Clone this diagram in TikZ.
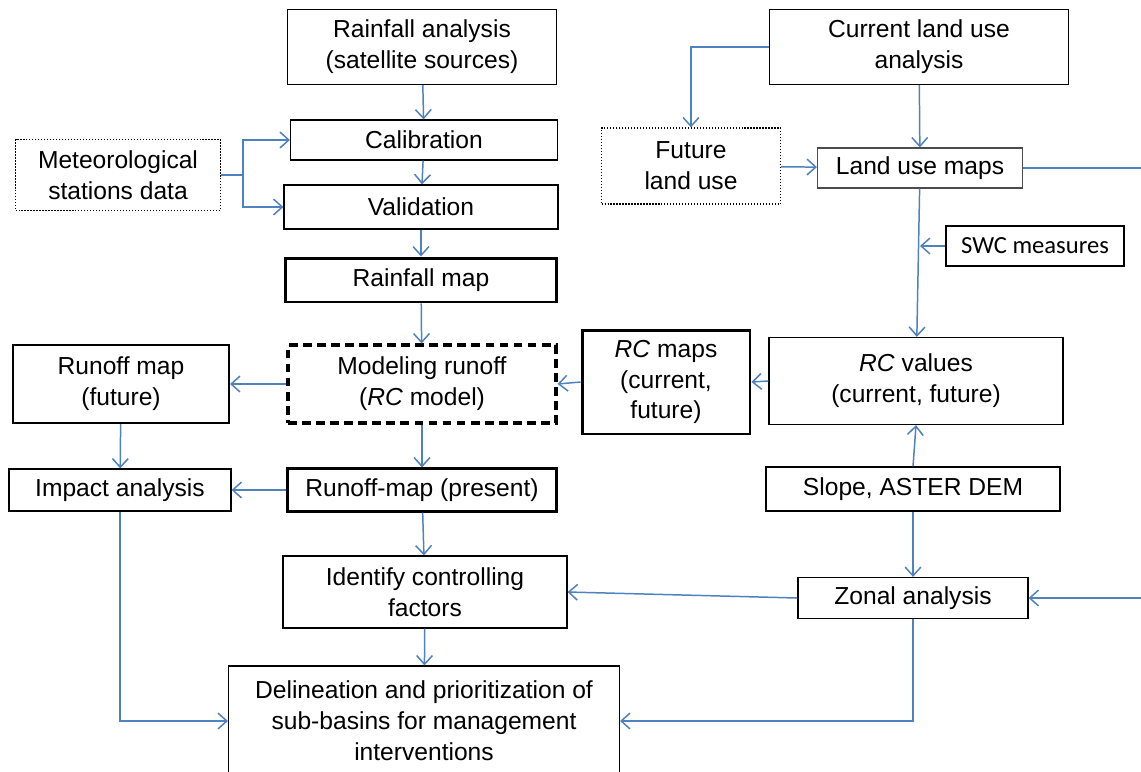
\documentclass[tikz,border=0pt]{standalone}
\usepackage{fontspec}
\setmainfont{Liberation Sans}
\newfontfamily\swcfont{Carlito}
\usetikzlibrary{arrows.meta}
\definecolor{linkblue}{RGB}{79,129,189}

\begin{document}
\begin{tikzpicture}
  [x=0.02cm,y=-0.02cm,
   every node/.style={draw,align=center,inner sep=1pt,
     font=\fontsize{14}{17.6}\selectfont},
   box/.style={line width=0.7pt},
   boldbox/.style={line width=1.7pt},
   midbox/.style={line width=1.2pt},
   dotbox/.style={line width=0.7pt,densely dotted},
   dashbox/.style={line width=1.8pt,dash pattern=on 5pt off 3pt},
   >={Straight Barb[length=5pt,width=9pt]},
   link/.style={->,draw=linkblue,line width=0.85pt}]
  \useasboundingbox (0,0) rectangle (1141,771);

  % left column
  \node[box,minimum width=5.38cm,minimum height=1.5cm] (rain) at (422,47) {Rainfall analysis\\(satellite sources)};
  \node[box,minimum width=5.34cm,minimum height=0.8cm] (calib) at (424,140) {Calibration};
  \node[box,minimum width=5.48cm,minimum height=0.88cm] (valid) at (421,207) {Validation};
  \node[dotbox,minimum width=4.1cm,minimum height=1.42cm] (meteo) at (118,175) {Meteorological\\stations data};
  \node[boldbox,minimum width=5.42cm,minimum height=0.88cm] (rmap) at (421,280) {Rainfall map};
  \node[dashbox,minimum width=5.36cm,minimum height=1.56cm] (model) at (422,384) {Modeling runoff\\(\textit{RC} model)};
  \node[midbox,minimum width=4.32cm,minimum height=1.56cm] (rofut) at (121,384) {Runoff map\\(future)};
  \node[box,minimum width=4.44cm,minimum height=0.84cm] (impact) at (120,490) {Impact analysis};
  \node[midbox,minimum width=5.38cm,minimum height=0.86cm] (ropres) at (422,490) {Runoff-map (present)};
  \node[box,minimum width=5.68cm,minimum height=1.44cm] (ident) at (425,592) {Identify controlling\\factors};
  \node[box,minimum width=7.82cm,minimum height=2.2cm] (delin) at (424,721) {Delineation and prioritization of\\sub-basins for management\\interventions};

  % right column
  \node[box,minimum width=5.98cm,minimum height=1.5cm] (curlu) at (919,47) {Current land use\\analysis};
  \node[dotbox,minimum width=3.58cm,minimum height=1.52cm] (futlu) at (691,166) {Future\\land use};
  \node[box,draw=black!70,minimum width=4.1cm,minimum height=0.8cm] (lum) at (920,168) {Land use maps};
  \node[box,minimum width=3.56cm,minimum height=0.8cm,font=\swcfont\fontsize{14}{16}\selectfont] (swc) at (1035,246) {SWC measures};
  \node[box,minimum width=5.88cm,minimum height=1.74cm] (rcval) at (916,381) {\textit{RC} values\\(current, future)};
  \node[boldbox,minimum width=3.36cm,minimum height=2.08cm] (rcmap) at (666,382) {\textit{RC} maps\\(current,\\future)};
  \node[box,minimum width=5.88cm,minimum height=0.88cm] (slope) at (913,489) {Slope, ASTER DEM};
  \node[box,minimum width=4.6cm,minimum height=0.82cm] (zonal) at (913,598) {Zonal analysis};

  \coordinate (mbr) at (243,175);
  \coordinate (redge) at (1160,380);

\foreach \from/\to in
{rain/calib, calib/valid, valid/rmap, rmap/model, model/ropres, ropres/ident,
 ident/delin, rofut/impact, curlu/lum, futlu/lum, lum/rcval, slope/zonal}
    \draw[link] (\from) -- (\to);

\foreach \from/\to in
{rcval/rcmap, rcmap/model, model/rofut, ropres/impact, zonal/ident}
    \draw[link] (\from.west) -- (\to.east);

  \draw[link] (slope.north) -- (rcval.south);
  \draw[link] (swc.west) -- (swc.west -| lum.south);
  \draw[link,-] (meteo.east) -- (mbr);
  \draw[link] (mbr) |- (calib.west);
  \draw[link] (mbr) |- (valid.west);
  \draw[link] (curlu.west) -| (futlu.north);
  \draw[link] (lum.east) -| (redge) |- (zonal.east);
  \draw[link] (impact.south) |- (delin.west);
  \draw[link] (zonal.south) |- (delin.east);

\end{tikzpicture}
\end{document}
